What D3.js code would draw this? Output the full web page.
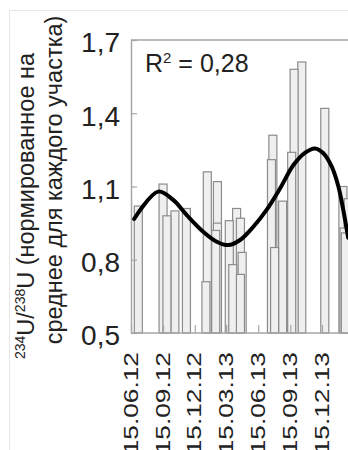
<!DOCTYPE html>
<html>
<head>
<meta charset="utf-8">
<script src="https://cdn.jsdelivr.net/npm/d3@7"></script>
<style>
  html, body { margin: 0; padding: 0; background: #fff; }
  svg { display: block; }
  text { font-family: "Liberation Sans", Arial, sans-serif; fill: #222; }
</style>
</head>
<body>
<svg id="chart" width="348" height="450"></svg>
<script>
// ---- data ----
const yTicks = [0.5, 0.8, 1.1, 1.4, 1.7];
const xTickDates = ["2012-06-15", "2012-09-15", "2012-12-15", "2013-03-15", "2013-06-15", "2013-09-15", "2013-12-15"];
const xTickLabels = ["15.06.12", "15.09.12", "15.12.12", "15.03.13", "15.06.13", "15.09.13", "15.12.13"];

const barDates = ["2012-07-06", "2012-09-15", "2012-09-26", "2012-10-19", "2012-11-21",
  "2013-01-16", "2013-01-20", "2013-02-13", "2013-02-18", "2013-02-18",
  "2013-03-24", "2013-04-03", "2013-04-14", "2013-04-25", "2013-04-25", "2013-04-30",
  "2013-07-23", "2013-07-27", "2013-08-01", "2013-08-24",
  "2013-09-19", "2013-09-26", "2013-10-18", "2013-12-23",
  "2014-02-13", "2014-02-16", "2014-02-20", "2014-02-28"];
const barValues = [1.02, 1.11, 0.98, 1.00, 1.01,
  0.71, 1.16, 0.92, 0.95, 1.12,
  0.96, 0.78, 1.01, 0.97, 0.74, 0.83,
  1.21, 1.31, 0.85, 1.04,
  1.24, 1.58, 1.61, 1.42,
  1.10, 0.93, 0.91, 1.05];

const curveDates = ["2012-06-24", "2012-09-01", "2012-10-14", "2012-11-22", "2013-01-08",
  "2013-02-16", "2013-03-21", "2013-04-24", "2013-06-01", "2013-07-09", "2013-08-17",
  "2013-09-24", "2013-10-27", "2013-11-25", "2013-12-19", "2014-01-12", "2014-01-31",
  "2014-02-14", "2014-02-28"];
const curveValues = [0.967, 1.079, 1.045, 0.983, 0.915,
  0.874, 0.860, 0.881, 0.935, 1.004, 1.093,
  1.188, 1.238, 1.256, 1.236, 1.181, 1.100,
  1.004, 0.890];

const r2Label = "0,28";
const titleLine2 = "среднее для каждого участка)";

// ---- layout ----
const svg = d3.select("#chart");
const plot = { left: 131, top: 40, bottom: 333, right: 420 };
const parse = d3.utcParse("%Y-%m-%d");

const x = d3.scaleUtc()
  .domain([parse(xTickDates[0]), parse(xTickDates[6])])
  .range([131, 322]);
const y = d3.scaleLinear().domain([0.5, 1.7]).range([plot.bottom, plot.top]);
const fmt = v => d3.format(".1f")(v).replace(".", ",");

// faint outer chart border
svg.append("rect").attr("x", 9.5).attr("y", 10.5).attr("width", 400).attr("height", 500)
  .attr("fill", "none").attr("stroke", "#e6e6e6").attr("stroke-width", 1);

// bars (taller first so shorter bar tops stay visible)
const bars = barDates.map((d, i) => ({ date: parse(d), value: barValues[i] }))
  .sort((a, b) => b.value - a.value);
const barDays = 23;
svg.append("g").selectAll("rect").data(bars).join("rect")
  .attr("x", d => x(d.date) - (x(d3.utcDay.offset(d.date, barDays)) - x(d.date)) / 2)
  .attr("width", d => x(d3.utcDay.offset(d.date, barDays)) - x(d.date))
  .attr("y", d => y(d.value))
  .attr("height", d => y(0.5) - y(d.value))
  .attr("fill", "#efefef")
  .attr("stroke", "#8c8c8c")
  .attr("stroke-width", 1.2);

// frame lines
const frame = svg.append("g").attr("stroke", "#a6a6a6").attr("stroke-width", 1.5).attr("fill", "none");
frame.append("line").attr("x1", plot.left).attr("x2", plot.right).attr("y1", plot.top).attr("y2", plot.top);

// y axis
const yAxis = d3.axisLeft(y).tickValues(yTicks).tickFormat(fmt).tickSizeInner(-6).tickSizeOuter(0).tickPadding(11);
const gy = svg.append("g").attr("transform", `translate(${plot.left},0)`).call(yAxis);
gy.select(".domain").attr("stroke", "#a6a6a6").attr("stroke-width", 1.5);
gy.selectAll(".tick line").attr("stroke", "#a6a6a6").attr("stroke-width", 1.2);
gy.selectAll(".tick text").attr("font-size", 28).attr("font-family", "Liberation Sans, Arial, sans-serif")
  .attr("fill", "#222").attr("dy", "0.42em");

// x axis
const xAxis = d3.axisBottom(x).tickValues(xTickDates.map(parse))
  .tickFormat((d, i) => xTickLabels[i]).tickSizeInner(-8).tickSizeOuter(0).tickPadding(0);
const gx = svg.append("g").attr("transform", `translate(0,${plot.bottom})`).call(xAxis);
gx.select(".domain").attr("d", `M${plot.left},0H${plot.right}`).attr("stroke", "#a6a6a6").attr("stroke-width", 1.5);
gx.selectAll(".tick line").attr("stroke", "#a6a6a6").attr("stroke-width", 1.2);
gx.selectAll(".tick text")
  .attr("font-size", 26.3).attr("font-family", "Liberation Sans, Arial, sans-serif").attr("fill", "#222")
  .attr("text-anchor", "end").attr("dy", null).attr("y", 0)
  .attr("transform", "translate(6,19) scale(0.8,1) rotate(-90)");

// trend curve
const line = d3.line().x(d => x(d.date)).y(d => y(d.value)).curve(d3.curveCatmullRom.alpha(0.5));
svg.append("path")
  .datum(curveDates.map((d, i) => ({ date: parse(d), value: curveValues[i] })))
  .attr("d", line).attr("fill", "none").attr("stroke", "#000").attr("stroke-width", 4)
  .attr("stroke-linejoin", "round").attr("stroke-linecap", "round");

// R^2 label
const r2 = svg.append("text").attr("x", 145).attr("y", 72).attr("font-size", 25);
r2.append("tspan").text("R");
r2.append("tspan").attr("font-size", 15).attr("dy", -9).text("2");
r2.append("tspan").attr("dy", 9).text(" = " + r2Label);

// y title (two rotated lines)
const t1 = svg.append("text").attr("transform", "translate(34,206) rotate(-90)")
  .attr("text-anchor", "middle").attr("font-size", 23.5);
t1.append("tspan").attr("font-size", 14).attr("dy", -9).text("234");
t1.append("tspan").attr("dy", 9).text("U/");
t1.append("tspan").attr("font-size", 14).attr("dy", -9).text("238");
t1.append("tspan").attr("dy", 9).text("U (нормированное на");

svg.append("text").attr("transform", "translate(62,180) rotate(-90)")
  .attr("text-anchor", "middle").attr("font-size", 23.5).text(titleLine2);
</script>
</body>
</html>
